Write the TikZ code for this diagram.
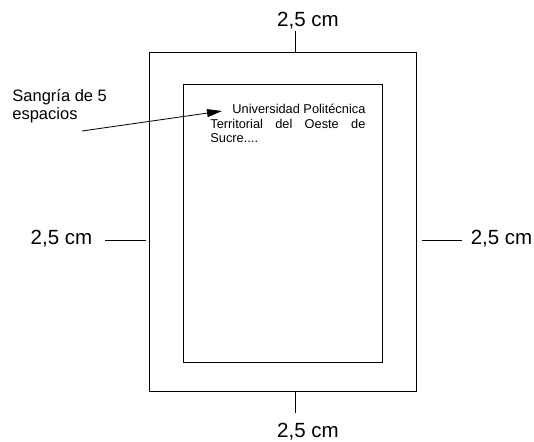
\documentclass[tikz,border=0pt]{standalone}
\usepackage{fontspec}
\setmainfont{Liberation Sans}
\usetikzlibrary{arrows.meta}

\begin{document}
\begin{tikzpicture}[x=1pt,y=-1pt,line width=0.8pt,
    margen/.style={font=\fontsize{20.5}{24}\selectfont,anchor=base,inner sep=0pt}]
  \useasboundingbox (0,0) rectangle (534,441);
  % hoja y caja de texto
  \draw (149,52) rectangle (416,391);
  \draw (183,84) rectangle (382.5,362.5);
  % medidas de margen
  \node [margen] (top) at (308,27) {2,5 cm};
  \node [margen] (bot) at (308,437) {2,5 cm};
  \node [margen] (lft) at (61.5,244) {2,5 cm};
  \node [margen] (rgt) at (501.5,244) {2,5 cm};
  \draw (295,31) -- (295,52);
  \draw (295,391) -- (295,413);
  \draw (105,240) -- (146,240);
  \draw (422,240) -- (462,240);
  % parrafo
  \node [anchor=base west,inner sep=0pt,text width=155pt,align=justify,
         font=\fontsize{12.8}{14.5}\selectfont] (parr) at (210,113.5)
    {\hspace*{22pt}Universidad Politécnica\linebreak
     Territorial del Oeste de\linebreak
     Sucre....};
  % sangria
  \node [anchor=base west,inner sep=0pt,align=left,
         font=\fontsize{16.5}{18}\selectfont] (sang) at (12,119)
    {Sangría de 5\\espacios};
  \coordinate (tail) at (82,131);
  \coordinate (tip) at (222,111);
  \draw [-{Triangle[length=15pt,width=8pt]}] (tail) -- (tip);
\end{tikzpicture}
\end{document}
